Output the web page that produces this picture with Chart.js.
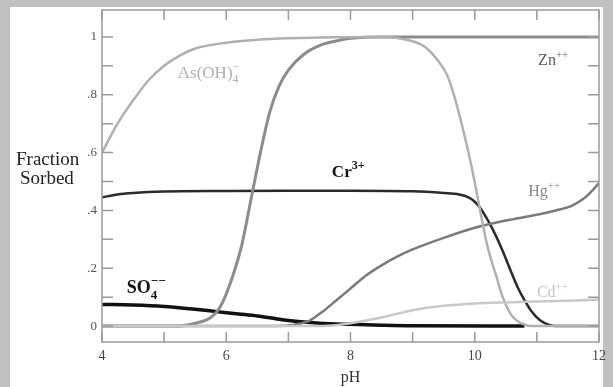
<!DOCTYPE html>
<html>
<head>
<meta charset="utf-8">
<script src="https://cdn.jsdelivr.net/npm/chart.js@4"></script>
<style>
  html, body { margin: 0; padding: 0; background: #c0c0c0; }
  #wrap { position: absolute; left: 10px; top: 7px; width: 593px; height: 380px; background: #fff; }
  #myChart { position: absolute; left: 0; top: 0; }
</style>
</head>
<body>
<div id="wrap"><canvas id="myChart" width="603" height="380"></canvas></div>
<script>
// tick values and labels
const xTicks = [4, 6, 8, 10, 12];
const xMinor = [4, 5, 6, 7, 8, 9, 10, 11, 12];
const yTicks = [0, 0.2, 0.4, 0.6, 0.8, 1];
const yTickLabels = ["0", ".2", ".4", ".6", ".8", "1"];
const yMinor = [0, 0.1, 0.2, 0.3, 0.4, 0.5, 0.6, 0.7, 0.8, 0.9, 1];

// As(OH)4-
const phAs = [4, 4.25, 4.5, 4.75, 5, 5.25, 5.5, 6, 6.5, 7, 8.5, 9, 9.2, 9.4, 9.55, 9.65, 9.8, 9.95, 10.05, 10.2, 10.35, 10.45, 10.6, 10.75, 10.9, 12];
const fracAs = [0.60, 0.70, 0.78, 0.85, 0.90, 0.935, 0.96, 0.98, 0.99, 0.995, 1, 0.985, 0.965, 0.92, 0.87, 0.81, 0.69, 0.55, 0.44, 0.28, 0.17, 0.10, 0.035, 0.01, 0, 0];

// Zn++
const phZn = [4, 5.2, 5.5, 5.75, 5.9, 6.1, 6.25, 6.4, 6.55, 6.7, 6.85, 7, 7.25, 7.5, 7.75, 8, 8.5, 12];
const fracZn = [0, 0, 0.01, 0.03, 0.065, 0.17, 0.28, 0.44, 0.6, 0.74, 0.83, 0.885, 0.94, 0.97, 0.985, 0.995, 1, 1];

// Cr3+
const phCr = [4, 4.25, 4.5, 5, 6, 7, 8, 9, 9.5, 9.75, 9.9, 10, 10.1, 10.2, 10.3, 10.45, 10.6, 10.7, 10.8, 10.9, 11.05, 11.2, 11.3, 12];
const fracCr = [0.445, 0.455, 0.46, 0.465, 0.467, 0.468, 0.468, 0.466, 0.46, 0.455, 0.445, 0.43, 0.405, 0.37, 0.33, 0.26, 0.18, 0.13, 0.09, 0.055, 0.02, 0.004, 0, 0];

// Hg++
const phHg = [4, 6.8, 7.1, 7.35, 7.55, 7.75, 8, 8.25, 8.5, 8.75, 9, 9.5, 10, 10.5, 11, 11.3, 11.55, 11.75, 11.9, 12];
const fracHg = [0, 0, 0.005, 0.02, 0.05, 0.085, 0.13, 0.175, 0.21, 0.24, 0.265, 0.305, 0.34, 0.365, 0.385, 0.40, 0.415, 0.44, 0.47, 0.495];

// Cd++
const phCd = [4, 7.5, 7.8, 8, 8.5, 9, 9.5, 10, 10.5, 11, 11.5, 12];
const fracCd = [0, 0, 0.004, 0.01, 0.03, 0.055, 0.07, 0.078, 0.082, 0.085, 0.088, 0.092];

// SO4--
const phSO4 = [4, 4.5, 5, 5.5, 5.85, 6.2, 6.5, 6.9, 7.2, 7.5, 8, 8.5, 9, 10.8];
const fracSO4 = [0.075, 0.073, 0.068, 0.058, 0.05, 0.042, 0.035, 0.022, 0.015, 0.01, 0.006, 0.003, 0.001, 0];

function pts(xs, ys) {
    return xs.map((v, i) => ({ x: v, y: ys[i] }));
}

// curve labels: anchor is left edge / baseline in data units
const curveLabels = [
    { x: 5.22, y: 0.858, color: "#b0b0b0", size: 17, bold: false, parts: [["As(OH)", 0], ["4", -1], ["\u2212", 1, true]] },
    { x: 11.02, y: 0.903, color: "#5a5a5a", size: 16, bold: false, parts: [["Zn", 0], ["++", 1]] },
    { x: 7.7, y: 0.516, color: "#111", size: 17, bold: true, parts: [["Cr", 0], ["3+", 1]] },
    { x: 10.86, y: 0.45, color: "#888", size: 16, bold: false, parts: [["Hg", 0], ["++", 1]] },
    { x: 4.4, y: 0.114, color: "#111", size: 18, bold: true, parts: [["SO", 0], ["4", -1], ["\u2212\u2212", 1, true]] },
    { x: 11.0, y: 0.1, color: "#c4c4c4", size: 16, bold: false, parts: [["Cd", 0], ["++", 1]] },
];

const serif = "'Liberation Serif', 'DejaVu Serif', serif";

const framePlugin = {
    id: "frame",
    afterDatasetsDraw(chart) {
        const { ctx, chartArea: a, scales } = chart;
        const x = scales.x, y = scales.y;
        ctx.save();
        ctx.strokeStyle = "#9a9a9a";
        ctx.lineWidth = 1.5;
        ctx.strokeRect(a.left, a.top, a.right - a.left, a.bottom - a.top);
        ctx.beginPath();
        xMinor.forEach(v => {
            const px = x.getPixelForValue(v);
            ctx.moveTo(px, a.bottom); ctx.lineTo(px, a.bottom - 10);
            ctx.moveTo(px, a.top); ctx.lineTo(px, a.top + 10);
        });
        yMinor.forEach(v => {
            const py = y.getPixelForValue(v);
            ctx.moveTo(a.left, py); ctx.lineTo(a.left + 11, py);
            ctx.moveTo(a.right, py); ctx.lineTo(a.right - 11, py);
        });
        ctx.stroke();

        // y axis title, horizontal, left of axis
        ctx.fillStyle = "#222";
        ctx.font = "19px " + serif;
        ctx.textAlign = "left";
        ctx.textBaseline = "alphabetic";
        ctx.fillText("Fraction", 6, 158);
        ctx.fillText("Sorbed", 10, 177);

        // curve labels
        curveLabels.forEach(lb => {
            let px = x.getPixelForValue(lb.x);
            const py = y.getPixelForValue(lb.y);
            const w = lb.bold ? "bold " : "";
            let lastX = px;
            ctx.fillStyle = lb.color;
            lb.parts.forEach(([t, pos, stack]) => {
                const sz = pos === 0 ? lb.size : Math.round(lb.size * 0.7);
                ctx.font = w + sz + "px " + serif;
                const sx = stack ? lastX : px;
                const dy = pos === 0 ? 0 : (pos < 0 ? lb.size * 0.3 : -lb.size * 0.45);
                ctx.fillText(t, sx, py + dy);
                if (!stack) {
                    lastX = px;
                    px += ctx.measureText(t).width;
                }
            });
        });
        ctx.restore();
    }
};

const ctx = document.getElementById("myChart");

new Chart(ctx, {
    type: "line",
    data: {
        datasets: [
            { label: "Cd++", data: pts(phCd, fracCd), borderColor: "#c8c8c8", borderWidth: 2.5 },
            { label: "As(OH)4-", data: pts(phAs, fracAs), borderColor: "#b0b0b0", borderWidth: 2.5 },
            { label: "Hg++", data: pts(phHg, fracHg), borderColor: "#7a7a7a", borderWidth: 2.5 },
            { label: "Zn++", data: pts(phZn, fracZn), borderColor: "#8c8c8c", borderWidth: 3 },
            { label: "Cr3+", data: pts(phCr, fracCr), borderColor: "#2a2a2a", borderWidth: 2.5 },
            { label: "SO4--", data: pts(phSO4, fracSO4), borderColor: "#111", borderWidth: 3.5 },
        ],
    },
    options: {
        responsive: false,
        animation: false,
        devicePixelRatio: 1,
        layout: { padding: { top: 3, right: 14, left: 0, bottom: 0 } },
        elements: {
            point: { radius: 0 },
            line: { cubicInterpolationMode: "monotone", fill: false },
        },
        plugins: {
            legend: { display: false },
            tooltip: { enabled: false },
        },
        scales: {
            x: {
                type: "linear",
                min: 4,
                max: 12,
                afterBuildTicks: s => { s.ticks = xTicks.map(v => ({ value: v })); },
                afterFit: s => { s.height = 45; s.paddingLeft = 0; s.paddingRight = 0; },
                grid: { display: false, drawTicks: false },
                border: { display: false },
                ticks: { font: { family: serif, size: 14 }, color: "#444", padding: 6, maxRotation: 0 },
                title: { display: true, text: "pH", font: { family: serif, size: 16 }, color: "#333", padding: 0 },
            },
            y: {
                type: "linear",
                min: -0.055,
                max: 1.093,
                afterBuildTicks: s => { s.ticks = yTicks.map(v => ({ value: v })); },
                afterFit: s => { s.width = 92; s.paddingTop = 0; s.paddingBottom = 0; },
                grid: { display: false, drawTicks: false },
                border: { display: false },
                ticks: {
                    font: { family: serif, size: 13 },
                    color: "#555",
                    padding: 5,
                    callback: (v) => yTickLabels[yTicks.indexOf(v)] ?? "",
                },
            },
        },
    },
    plugins: [framePlugin],
});
</script>
</body>
</html>
